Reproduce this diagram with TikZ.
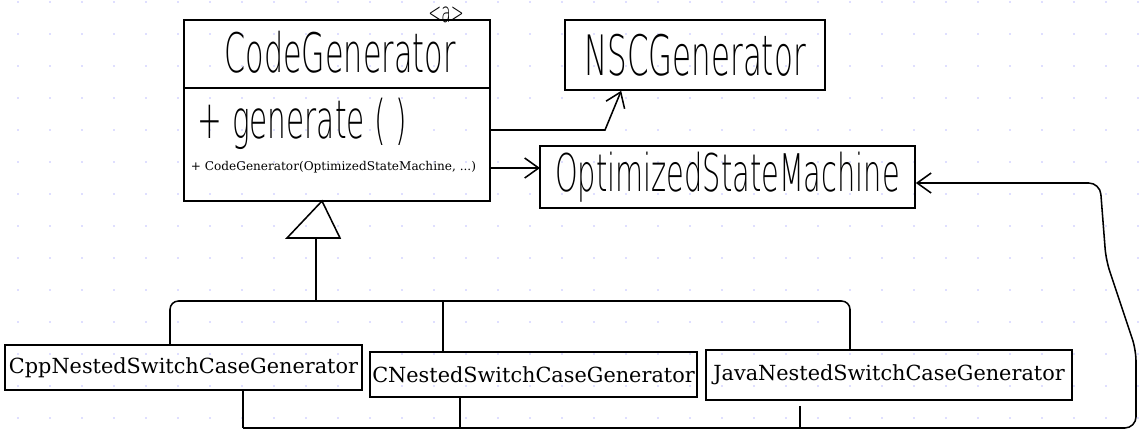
\documentclass[tikz,border=0pt]{standalone}
\usepackage{fontspec}
\usetikzlibrary{arrows.meta,calc}
\newfontfamily\handfont{DejaVu Sans ExtraLight}
\newfontfamily\boxfont{DejaVu Serif}
\newcommand\hand[2]{\scalebox{1}[1.8]{\fontsize{#1}{#1}\handfont #2}}

\begin{document}
\begin{tikzpicture}[
    x=0.025cm, y=-0.025cm,
    cls/.style={draw, line width=1.1pt, inner sep=0pt},
    sub/.style={cls, minimum height=1.125cm, font=\fontsize{14.8}{16}\boxfont},
    edge/.style={line width=1.1pt},
    assoc/.style={edge, -{Straight Barb[length=3.5mm, width=5mm, line width=1.1pt]}},
    dot/.style={fill=blue!25!white, draw=none}
]
\useasboundingbox (0,0) rectangle (1142,442);

% dotted paper
\foreach \x in {18,50,...,1142}
  \foreach \y in {2,34,...,442}
    \fill[dot] (\x,\y) circle (0.9);

% classes
\node[cls, minimum width=7.65cm, minimum height=4.525cm] (cg) at (337,110.5) {};
\node (cgname) at (340,52) {\hand{21.5}{CodeGenerator}};
\node[inner sep=0pt] (abs) at (446,15) {\hand{11}{\textless a\textgreater}};
\coordinate (cgdiv) at (337,88);
\draw[edge] (cg.west |- cgdiv) -- (cg.east |- cgdiv);
\node[anchor=west] (cggen) at (193,124) {\hand{21}{+ generate ( )}};
\node[anchor=west, font=\fontsize{8.6}{10}\boxfont] (cgctor) at (186,167)
  {+ CodeGenerator(OptimizedStateMachine, ...)};

\node[cls, minimum width=6.5cm, minimum height=1.75cm] (nsc) at (695,55)
  {\hand{22}{NSCGenerator}};
\node[cls, minimum width=9.375cm, minimum height=1.55cm] (osm) at (727.5,177)
  {\hand{20.5}{OptimizedStateMachine}};

\node[sub, minimum width=8.925cm] (cpp) at (183.5,367.5) {CppNestedSwitchCaseGenerator};
\node[sub, minimum width=8.175cm] (cgen) at (533.5,374.5) {CNestedSwitchCaseGenerator};
\node[sub, minimum width=9.15cm, minimum height=1.25cm] (java) at (889,375) {JavaNestedSwitchCaseGenerator};

% inheritance
\coordinate (apex) at (322,201);
\draw[edge] (apex) -- ++(-35,37) -- ++(53,0) -- cycle;
\coordinate (tribase) at (316,238);
\coordinate (busL) at (170,301);
\coordinate (busC) at (443,301);
\coordinate (busR) at (850,301);
\draw[edge] (tribase) -- (tribase |- busL);
\draw[edge, rounded corners=6] (cpp.north -| busL) -- (busL) -- (busR) -- (java.north -| busR);
\draw[edge] (busC) -- (cgen.north -| busC);

% uses
\coordinate (k1) at (605,130);
\draw[assoc] (cg.east |- k1) -- (k1) -- ($(nsc.south west)+(57,0)$);
\coordinate (k2) at (540,168);
\draw[assoc] (cg.east |- k2) -- (k2);

% back to the state machine
\coordinate (loopL) at (243,428);
\coordinate (loopR) at (1136,428);
\coordinate (loopT) at (1100,183);
\draw[edge] (cpp.south -| loopL) -- (loopL);
\draw[assoc, rounded corners=8] (loopL) -- (loopR) -- (1136,350) -- (1106,260) -- (loopT) -- (osm.east |- loopT);
\coordinate (cdrop) at (460,428);
\draw[edge] (cgen.south -| cdrop) -- (cdrop);
\coordinate (jdrop) at (800,428);
\draw[edge] ($(java.south -| jdrop)+(0,5)$) -- (jdrop);

\end{tikzpicture}
\end{document}
